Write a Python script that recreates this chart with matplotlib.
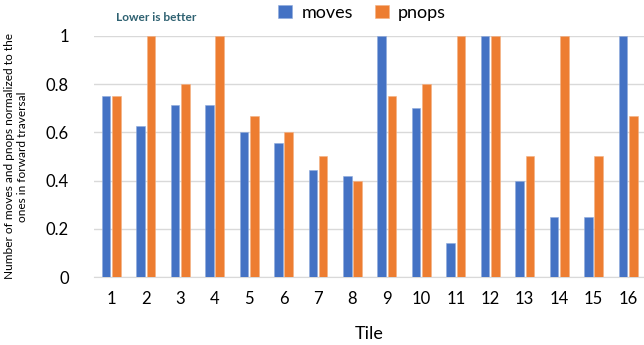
import numpy as np
import matplotlib
matplotlib.use("Agg")
from matplotlib import pyplot as plt

plt.rcParams['font.family'] = ['Lato', 'DejaVu Sans']

tiles = [str(i) for i in range(1, 17)]
moves = [0.75, 0.625, 0.714, 0.714, 0.6, 0.556, 0.444, 0.417,
         1.0, 0.7, 0.143, 1.0, 0.4, 0.25, 0.25, 1.0]
pnops = [0.75, 1.0, 0.8, 1.0, 0.667, 0.6, 0.5, 0.4,
         0.75, 0.8, 1.0, 1.0, 0.5, 1.0, 0.5, 0.667]
yticks = [0, 0.2, 0.4, 0.6, 0.8, 1]
ytick_labels = ["0", "0.2", "0.4", "0.6", "0.8", "1"]

blue = "#4472C4"
orange = "#ED7D31"

fig = plt.figure(figsize=(6.44, 3.45), dpi=100)
ax = fig.add_axes([0.146, 0.197, 0.856, 0.699])

x = np.arange(len(tiles))
w = 0.25
ax.bar(x - 0.15, moves, w, color=blue, edgecolor="#8FAADC", linewidth=0.4, label="moves", zorder=3)
ax.bar(x + 0.15, pnops, w, color=orange, edgecolor="#F4B183", linewidth=0.4, label="pnops", zorder=3)

ax.set_xlim(-0.5, len(tiles) - 0.5)
ax.set_ylim(0, 1)
ax.set_xticks(x)
ax.set_xticklabels(tiles, fontsize=12)
ax.set_yticks(yticks)
ax.set_yticklabels(ytick_labels, fontsize=12)
ax.tick_params(axis="both", length=0)
ax.tick_params(axis="x", pad=10)
ax.tick_params(axis="y", pad=18)
ax.grid(axis="y", color="#D9D9D9", linewidth=1, zorder=0)
for s in ["top", "right", "left"]:
    ax.spines[s].set_visible(False)
ax.spines["bottom"].set_color("#D9D9D9")
ax.spines["bottom"].set_zorder(1)

ax.set_xlabel("Tile", fontsize=13, labelpad=14)
ax.set_ylabel("Number of moves and pnops normalized to the\nones in forward traversal",
              fontsize=8.6, labelpad=13)

fig.text(0.18, 0.948, "Lower is better", fontsize=8.6, fontweight="bold", color="#2E6171",
         va="center", ha="left")

fig.legend(loc="center", bbox_to_anchor=(0.562, 0.963), ncol=2, frameon=False,
           fontsize=13, handlelength=0.8, handleheight=0.8, columnspacing=1.2,
           handletextpad=0.5, borderaxespad=0)

fig.savefig("out.png", dpi=100)
